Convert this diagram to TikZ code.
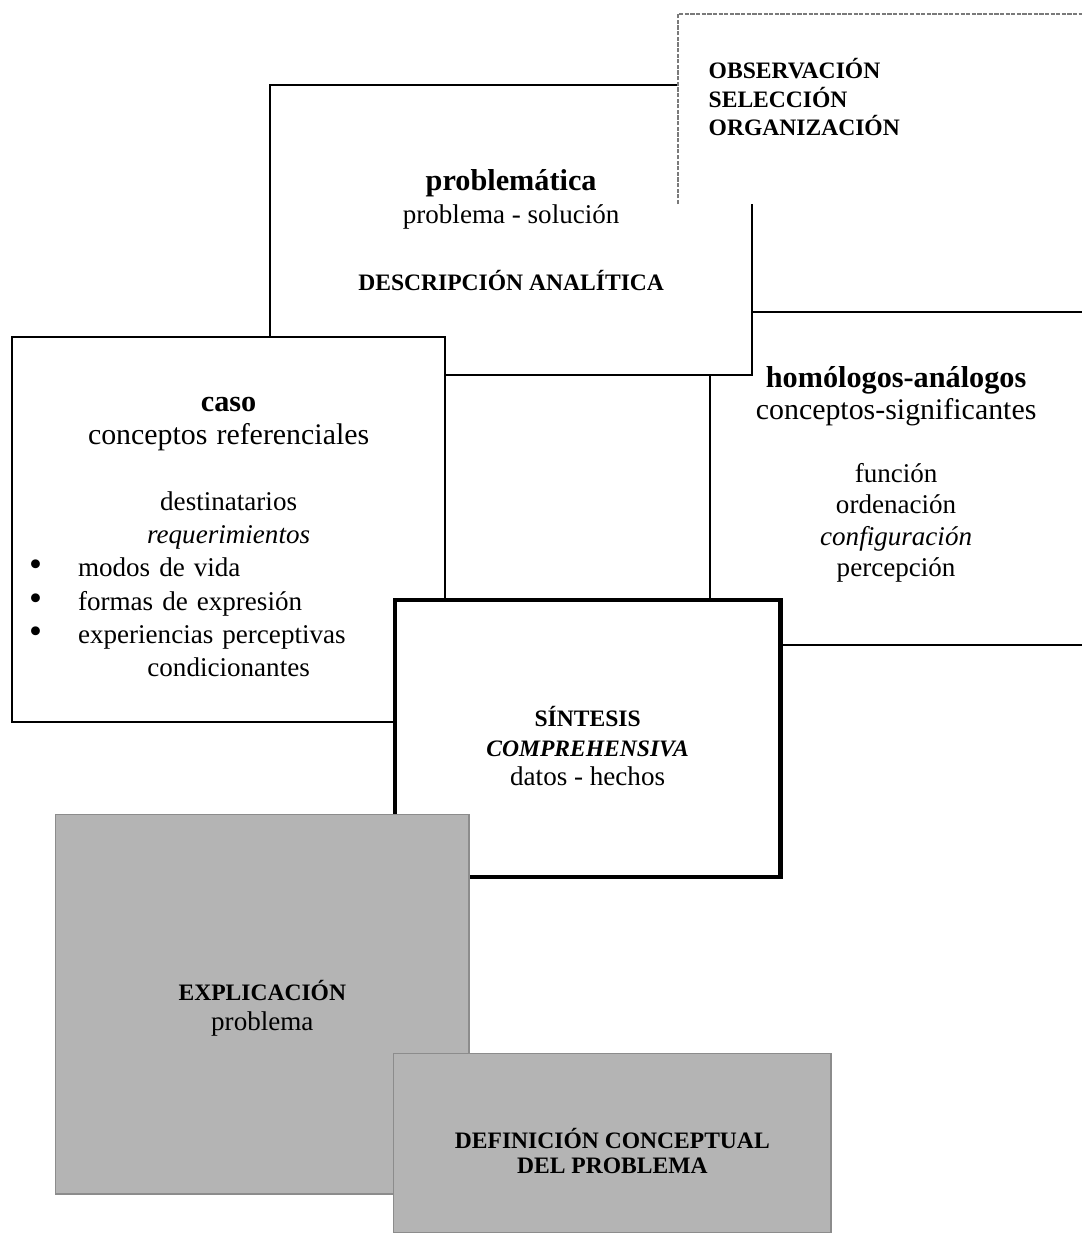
\documentclass[tikz,border=0pt]{standalone}
\usepackage{fontspec}
\setmainfont{Liberation Serif}
\usetikzlibrary{positioning,calc}
\definecolor{shadec}{HTML}{B4B4B4}
\definecolor{dotc}{HTML}{7A7A7A}
\newcommand{\hdf}{\fontsize{8.6}{9.4}\selectfont\bfseries}
\newcommand{\subf}{\fontsize{8.5}{9.4}\selectfont}
\newcommand{\txf}{\fontsize{7.7}{9.4}\selectfont}
\newcommand{\capf}{\fontsize{6.7}{8.1}\selectfont\bfseries}
\newcommand{\blt}{\makebox[0.49cm][l]{\fontsize{10.5}{9}\selectfont\textbullet}}
\tikzset{
  panel/.style={anchor=north west, fill=white, inner sep=0pt, outer sep=0pt, align=center, font=\txf},
  frameline/.style={line width=0.6pt},
  heavyframe/.style={draw, line width=1.3pt},
  dotframe/.style={draw=dotc, line width=0.7pt, dash pattern=on 1.2pt off 0.4pt},
  greybox/.style={anchor=north west, fill=shadec, draw=black!45, line width=0.4pt, inner sep=0pt, align=center, font=\capf},
}

\begin{document}
\begin{tikzpicture}[x=0.01cm, y=-0.01cm]
  \useasboundingbox (0,0) rectangle (1082,1233);
  % boxes from back to front
  \node[panel, minimum width=3.72cm, minimum height=3.33cm, font=\fontsize{7.7}{8.9}\selectfont] (hom) at (710,312)
    {{\hdf homólogos-análogos}\\{\subf conceptos-significantes}\\[9.1pt]función\\ordenación\\\textit{configuración}\\percepción\rule[-4pt]{0pt}{4pt}};
  \draw[frameline] (hom.north east) -- (hom.north west) -- (hom.south west) -- (hom.south east);
  \node[panel, draw, frameline, minimum width=4.82cm, minimum height=2.90cm] (prob) at (270,85)
    {{\hdf problemática}\\problema - solución\\[9.4pt]{\capf DESCRIPCIÓN ANALÍTICA}};
  \node[panel, minimum width=4.04cm, minimum height=1.90cm] (obs) at (678,14) {};
  \draw[dotframe] (obs.south west) -- (obs.north west) -- (obs.north east);
  \node[font=\capf, align=left, anchor=north west, inner sep=0pt] (obstxt) at (708,58)
    {OBSERVACIÓN\\SELECCIÓN\\ORGANIZACIÓN};
  \node[panel, draw, frameline, minimum width=4.33cm, minimum height=3.85cm, text width=4.33cm] (caso) at (12,337)
    {\rule{0pt}{8.2pt}{\hdf caso}\\{\subf conceptos referenciales}\\[9.4pt]destinatarios\\\textit{requerimientos}\\
     \makebox[\linewidth][l]{\hspace{0.17cm}\blt modos de vida}\\
     \makebox[\linewidth][l]{\hspace{0.17cm}\blt formas de expresión}\\
     \makebox[\linewidth][l]{\hspace{0.17cm}\blt experiencias perceptivas}\\
     condicionantes};
  \node[panel, heavyframe, minimum width=3.85cm, minimum height=2.77cm, font=\fontsize{7.7}{8.3}\selectfont] (sint) at (395,600)
    {\rule{0pt}{10pt}{\capf SÍNTESIS}\\{\capf\itshape COMPREHENSIVA}\\datos - hechos};
  \node[greybox, minimum width=4.13cm, minimum height=3.79cm, font=\fontsize{6.7}{8.3}\selectfont\bfseries] (expl) at (55,814)
    {\rule{0pt}{8pt}EXPLICACIÓN\\{\txf\mdseries problema}};
  \node[greybox, minimum width=4.37cm, minimum height=1.79cm, font=\fontsize{6.7}{7.2}\selectfont\bfseries] (defn) at (393,1053)
    {\rule{0pt}{10pt}DEFINICIÓN CONCEPTUAL\\DEL PROBLEMA};
\end{tikzpicture}
\end{document}
